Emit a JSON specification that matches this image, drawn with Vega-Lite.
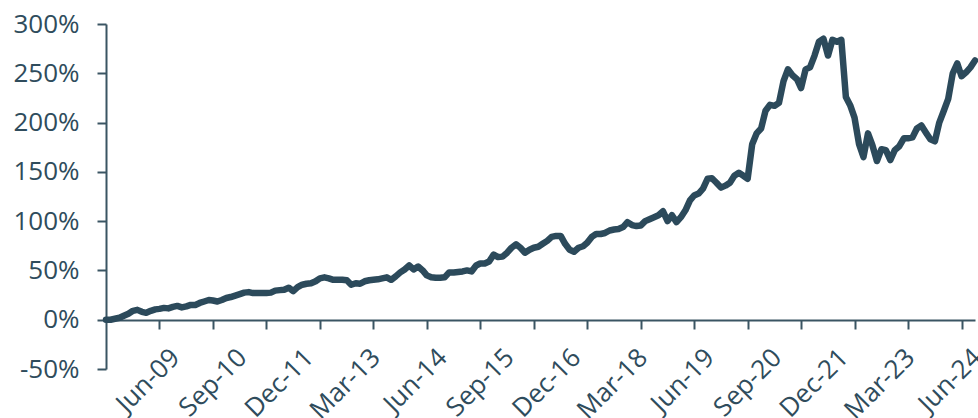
{
  "$schema": "https://vega.github.io/schema/vega-lite/v6.json",
  "width": 869,
  "height": 345,
  "autosize": "none",
  "padding": {"left": 106, "top": 24, "right": 3, "bottom": 49},
  "background": "white",
  "config": {"view": {"stroke": null}, "font": "Open Sans"},
  "data": {"values": [
    {"d":"2008-03-01","v":0},{"d":"2008-04-01","v":0},{"d":"2008-05-01","v":1},{"d":"2008-06-01","v":2},{"d":"2008-07-01","v":4},{"d":"2008-08-01","v":6},{"d":"2008-09-01","v":9},{"d":"2008-10-01","v":10},{"d":"2008-11-01","v":8},{"d":"2008-12-01","v":7},
    {"d":"2009-01-01","v":9},{"d":"2009-02-01","v":10.5},{"d":"2009-03-01","v":11},{"d":"2009-04-01","v":12},{"d":"2009-05-01","v":11.5},{"d":"2009-06-01","v":13},{"d":"2009-07-01","v":14},{"d":"2009-08-01","v":12.5},{"d":"2009-09-01","v":13.5},{"d":"2009-10-01","v":15},{"d":"2009-11-01","v":15},{"d":"2009-12-01","v":17},
    {"d":"2010-01-01","v":18.5},{"d":"2010-02-01","v":20},{"d":"2010-03-01","v":19.5},{"d":"2010-04-01","v":18.5},{"d":"2010-05-01","v":20},{"d":"2010-06-01","v":22},{"d":"2010-07-01","v":23},{"d":"2010-08-01","v":24.5},{"d":"2010-09-01","v":26},{"d":"2010-10-01","v":27.5},{"d":"2010-11-01","v":28},{"d":"2010-12-01","v":27},
    {"d":"2011-01-01","v":27},{"d":"2011-02-01","v":27},{"d":"2011-03-01","v":27},{"d":"2011-04-01","v":27.5},{"d":"2011-05-01","v":29.5},{"d":"2011-06-01","v":30},{"d":"2011-07-01","v":30.5},{"d":"2011-08-01","v":32.5},{"d":"2011-09-01","v":29},{"d":"2011-10-01","v":33},{"d":"2011-11-01","v":35.5},{"d":"2011-12-01","v":36.5},
    {"d":"2012-01-01","v":37},{"d":"2012-02-01","v":39},{"d":"2012-03-01","v":42},{"d":"2012-04-01","v":43},{"d":"2012-05-01","v":42},{"d":"2012-06-01","v":40.5},{"d":"2012-07-01","v":40.5},{"d":"2012-08-01","v":40.5},{"d":"2012-09-01","v":40},{"d":"2012-10-01","v":35.5},{"d":"2012-11-01","v":37},{"d":"2012-12-01","v":36.5},
    {"d":"2013-01-01","v":39},{"d":"2013-02-01","v":40},{"d":"2013-03-01","v":40.5},{"d":"2013-04-01","v":41},{"d":"2013-05-01","v":42},{"d":"2013-06-01","v":43},{"d":"2013-07-01","v":40.5},{"d":"2013-08-01","v":44},{"d":"2013-09-01","v":48},{"d":"2013-10-01","v":51},{"d":"2013-11-01","v":55},{"d":"2013-12-01","v":51},
    {"d":"2014-01-01","v":54},{"d":"2014-02-01","v":50},{"d":"2014-03-01","v":45},{"d":"2014-04-01","v":43},{"d":"2014-05-01","v":42.5},{"d":"2014-06-01","v":42.5},{"d":"2014-07-01","v":43},{"d":"2014-08-01","v":48},{"d":"2014-09-01","v":48},{"d":"2014-10-01","v":48.5},{"d":"2014-11-01","v":49},{"d":"2014-12-01","v":50},
    {"d":"2015-01-01","v":49},{"d":"2015-02-01","v":55},{"d":"2015-03-01","v":57},{"d":"2015-04-01","v":57},{"d":"2015-05-01","v":59},{"d":"2015-06-01","v":66},{"d":"2015-07-01","v":63.5},{"d":"2015-08-01","v":64},{"d":"2015-09-01","v":68},{"d":"2015-10-01","v":73},{"d":"2015-11-01","v":76.5},{"d":"2015-12-01","v":73},
    {"d":"2016-01-01","v":68},{"d":"2016-02-01","v":71},{"d":"2016-03-01","v":73},{"d":"2016-04-01","v":74},{"d":"2016-05-01","v":77},{"d":"2016-06-01","v":80},{"d":"2016-07-01","v":84},{"d":"2016-08-01","v":85},{"d":"2016-09-01","v":85},{"d":"2016-10-01","v":77},{"d":"2016-11-01","v":71},{"d":"2016-12-01","v":69},
    {"d":"2017-01-01","v":73},{"d":"2017-02-01","v":74.5},{"d":"2017-03-01","v":78},{"d":"2017-04-01","v":84},{"d":"2017-05-01","v":87},{"d":"2017-06-01","v":87},{"d":"2017-07-01","v":88},{"d":"2017-08-01","v":90.5},{"d":"2017-09-01","v":91.5},{"d":"2017-10-01","v":92},{"d":"2017-11-01","v":94},{"d":"2017-12-01","v":99},
    {"d":"2018-01-01","v":96},{"d":"2018-02-01","v":95},{"d":"2018-03-01","v":95.5},{"d":"2018-04-01","v":100},{"d":"2018-05-01","v":102},{"d":"2018-06-01","v":104},{"d":"2018-07-01","v":106},{"d":"2018-08-01","v":110},{"d":"2018-09-01","v":100},{"d":"2018-10-01","v":106},{"d":"2018-11-01","v":99},{"d":"2018-12-01","v":104},
    {"d":"2019-01-01","v":111},{"d":"2019-02-01","v":121},{"d":"2019-03-01","v":126},{"d":"2019-04-01","v":128},{"d":"2019-05-01","v":133},{"d":"2019-06-01","v":143},{"d":"2019-07-01","v":143.5},{"d":"2019-08-01","v":139},{"d":"2019-09-01","v":134},{"d":"2019-10-01","v":136},{"d":"2019-11-01","v":139},{"d":"2019-12-01","v":146},
    {"d":"2020-01-01","v":149},{"d":"2020-02-01","v":146},{"d":"2020-03-01","v":143},{"d":"2020-04-01","v":178},{"d":"2020-05-01","v":189},{"d":"2020-06-01","v":194},{"d":"2020-07-01","v":212},{"d":"2020-08-01","v":218},{"d":"2020-09-01","v":217},{"d":"2020-10-01","v":220},{"d":"2020-11-01","v":242},{"d":"2020-12-01","v":254},
    {"d":"2021-01-01","v":248},{"d":"2021-02-01","v":244},{"d":"2021-03-01","v":235},{"d":"2021-04-01","v":254},{"d":"2021-05-01","v":256},{"d":"2021-06-01","v":268},{"d":"2021-07-01","v":282},{"d":"2021-08-01","v":285},{"d":"2021-09-01","v":268},{"d":"2021-10-01","v":284},{"d":"2021-11-01","v":282},{"d":"2021-12-01","v":284},
    {"d":"2022-01-01","v":226},{"d":"2022-02-01","v":217},{"d":"2022-03-01","v":205},{"d":"2022-04-01","v":178},{"d":"2022-05-01","v":165},{"d":"2022-06-01","v":189},{"d":"2022-07-01","v":177},{"d":"2022-08-01","v":161},{"d":"2022-09-01","v":173},{"d":"2022-10-01","v":172},{"d":"2022-11-01","v":162},{"d":"2022-12-01","v":172},
    {"d":"2023-01-01","v":176},{"d":"2023-02-01","v":184},{"d":"2023-03-01","v":184},{"d":"2023-04-01","v":185},{"d":"2023-05-01","v":194},{"d":"2023-06-01","v":197},{"d":"2023-07-01","v":190},{"d":"2023-08-01","v":183},{"d":"2023-09-01","v":181},{"d":"2023-10-01","v":200},{"d":"2023-11-01","v":212},{"d":"2023-12-01","v":224},
    {"d":"2024-01-01","v":250},{"d":"2024-02-01","v":260},{"d":"2024-03-01","v":247},{"d":"2024-04-01","v":251},{"d":"2024-05-01","v":256},{"d":"2024-06-01","v":263}
  ]},
  "mark": {"type": "line", "color": "#2c4a5b", "strokeWidth": 6.5, "strokeJoin": "round", "strokeCap": "round"},
  "encoding": {
    "x": {
      "field": "d", "type": "temporal",
      "scale": {"type": "utc", "domain": [{"year": 2008, "month": 3, "date": 1, "utc": true}, {"year": 2024, "month": 6, "date": 1, "utc": true}], "nice": false},
      "axis": {
        "title": null, "grid": false, "offset": -49,
        "values": [
          {"year": 2009, "month": 3, "date": 1, "utc": true},
          {"year": 2009, "month": 6, "date": 1, "utc": true},
          {"year": 2010, "month": 3, "date": 1, "utc": true},
          {"year": 2010, "month": 9, "date": 1, "utc": true},
          {"year": 2011, "month": 3, "date": 1, "utc": true},
          {"year": 2011, "month": 12, "date": 1, "utc": true},
          {"year": 2012, "month": 3, "date": 1, "utc": true},
          {"year": 2013, "month": 3, "date": 1, "utc": true},
          {"year": 2014, "month": 3, "date": 1, "utc": true},
          {"year": 2014, "month": 6, "date": 1, "utc": true},
          {"year": 2015, "month": 3, "date": 1, "utc": true},
          {"year": 2015, "month": 9, "date": 1, "utc": true},
          {"year": 2016, "month": 3, "date": 1, "utc": true},
          {"year": 2016, "month": 12, "date": 1, "utc": true},
          {"year": 2017, "month": 3, "date": 1, "utc": true},
          {"year": 2018, "month": 3, "date": 1, "utc": true},
          {"year": 2019, "month": 3, "date": 1, "utc": true},
          {"year": 2019, "month": 6, "date": 1, "utc": true},
          {"year": 2020, "month": 3, "date": 1, "utc": true},
          {"year": 2020, "month": 9, "date": 1, "utc": true},
          {"year": 2021, "month": 3, "date": 1, "utc": true},
          {"year": 2021, "month": 12, "date": 1, "utc": true},
          {"year": 2022, "month": 3, "date": 1, "utc": true},
          {"year": 2023, "month": 3, "date": 1, "utc": true},
          {"year": 2024, "month": 3, "date": 1, "utc": true},
          {"year": 2024, "month": 6, "date": 1, "utc": true}
        ],
        "tickOpacity": {"condition": {"test": "utcmonth(datum.value) == 2", "value": 1}, "value": 0},
        "labelExpr": "utcmonth(datum.value) != 2 || (utcyear(datum.value) - 2008) % 5 == 0 ? utcFormat(datum.value, '%b-%y') : ''",
        "labelAngle": -45, "labelAlign": "right", "labelBaseline": "top",
        "labelPadding": 15, "labelOffset": -7, "labelOverlap": false, "labelFlush": false, "labelBound": false,
        "labelFont": "Open Sans", "labelFontSize": 26, "labelColor": "#2f4c5c",
        "domainColor": "#3a5563", "domainWidth": 2, "tickColor": "#3a5563", "tickWidth": 2, "tickSize": 9
      }
    },
    "y": {
      "field": "v", "type": "quantitative",
      "scale": {"domain": [-50, 300], "nice": false, "zero": false},
      "axis": {
        "title": null, "grid": false,
        "values": [-50, 0, 50, 100, 150, 200, 250, 300],
        "labelExpr": "datum.value + '%'",
        "labelFont": "Open Sans", "labelFontSize": 26, "labelColor": "#2f4c5c",
        "labelPadding": 18,
        "domainColor": "#3a5563", "domainWidth": 2, "tickColor": "#3a5563", "tickWidth": 2, "tickSize": 9
      }
    }
  }
}
